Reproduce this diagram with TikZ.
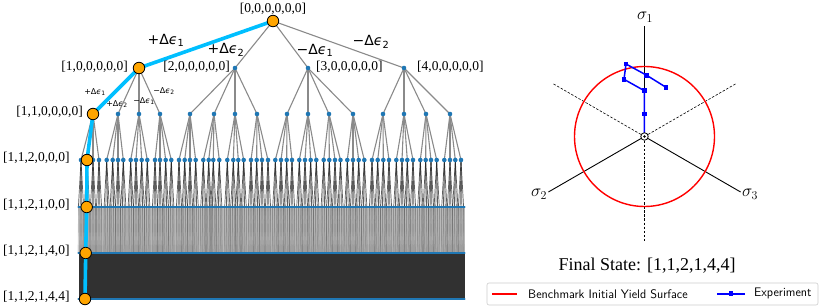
\documentclass[tikz,border=0pt]{standalone}
\usepackage{fontspec}
\setmainfont{Liberation Serif}
\newfontfamily\djs{DejaVu Sans}
\definecolor{tabblue}{HTML}{1F77B4}
\definecolor{pathcyan}{HTML}{00BFFF}
\definecolor{orng}{HTML}{FFA500}
\definecolor{edgegray}{HTML}{8A8A8A}
\definecolor{darkband}{HTML}{313131}
\definecolor{lightband}{HTML}{B9B9B9}
\newcommand{\dEps}[2]{#1Δ{\itshape ϵ}\textsubscript{#2}}
\def\Lthree{81,87,93,99,106.7,112.7,118,123.3,130.7,136,141.7,147.3,155,160,165.7,171.3,179,184.7,190,195.7,203.3,208.7,213.3,219.3,227.3,233.3,238.3,243.7,251,256.7,262,268,275.3,281,286.7,292,299.3,305,310.7,316.3,323.7,329.3,335,340.5,347.3,353,358.7,364.3,372,377.7,383.3,389,396.3,402,407.3,413,420.3,425.7,431,436.7,444.3,450,455.3,461}
\begin{document}
\begin{tikzpicture}[x=1pt,y=-1pt,
  edge/.style={draw=edgegray, line width=1.1pt},
  fan/.style={draw=black!90, line width=0.7pt, opacity=0.7},
  fanb/.style={draw=black!70, line width=0.4pt, opacity=0.22},
  bdot/.style={circle, fill=tabblue, inner sep=0pt, minimum size=4.6pt},
  onode/.style={circle, draw=black, line width=0.8pt, fill=orng, inner sep=0pt, minimum size=11.5pt},
  lab/.style={font=\fontsize{13.5}{15}\selectfont, inner sep=0pt},
  dlab/.style={font=\djs\fontsize{14}{16}\selectfont, inner sep=0pt},
  sdlab/.style={font=\djs\fontsize{8}{9}\selectfont, inner sep=0pt},
  cpath/.style={draw=pathcyan, line width=3.6pt, line join=round},
  level/.style={draw=tabblue, line width=2.3pt, line cap=round},
  axis/.style={draw=black, line width=0.9pt},
  daxis/.style={draw=black, line width=0.6pt, dash pattern=on 2.5pt off 1.6pt},
  expt/.style={draw=blue, line width=1.5pt, line join=round},
  sq/.style={rectangle, fill=blue, inner sep=0pt, minimum size=4.8pt},
  sig/.style={font=\fontsize{17}{19}\selectfont, inner sep=0pt},
  leg/.style={font=\sffamily\fontsize{12.4}{14}\selectfont, anchor=west, inner sep=0pt}
]
\useasboundingbox (0,0) rectangle (822,307);
% ---------- tree coordinates ----------
\coordinate (r) at (273,21);
\foreach \x [count=\i from 0] in {139,235,308,404} \coordinate (a\i) at (\x,68);
\foreach \x [count=\i from 0] in {93,118,139,160,190,214,235,257,287,308,329,353,383,404,426,450} \coordinate (b\i) at (\x,114);
\foreach \x [count=\i from 0] in \Lthree \coordinate (c\i) at (\x,160);
\coordinate (o4) at (86.7,207);
\coordinate (o5) at (85.7,253);
\coordinate (o6) at (85,299);
% ---------- bands ----------
\fill[lightband] (78.5,207) rectangle (464.5,253);
\fill[darkband] (78.5,253) rectangle (464.5,299);
% ---------- edges ----------
\foreach \i in {0,...,3} \draw[edge] (r) -- (a\i);
\foreach \i in {0,...,15} {
  \pgfmathtruncatemacro\p{\i/4}
  \draw[edge] (a\p) -- (b\i);
}
\foreach \x [count=\i from 0] in \Lthree {
  \pgfmathtruncatemacro\p{\i/4}
  \draw[edge] (b\p) -- (c\i);
  \foreach \o [count=\k] in {-2.6,-0.9,0.9,2.6} {
    \coordinate (d\i-\k) at ({\x+\o},207);
    \draw[fan] (c\i) -- (d\i-\k);
    \foreach \q in {-0.55,-0.18,0.18,0.55} \draw[fanb] (d\i-\k) -- ++(\q,46);
  }
}
% ---------- level lines ----------
\draw[level] (78.5,207) -- (464.5,207);
\draw[level] (78.5,253) -- (464.5,253);
\draw[level] (78.5,299) -- (464.5,299);
% ---------- blue dots ----------
\foreach \i in {1,2,3} \node[bdot] at (a\i) {};
\foreach \i in {1,...,15} \node[bdot] at (b\i) {};
\foreach \i in {0,...,63} \node[bdot] at (c\i) {};
% ---------- chosen path ----------
\draw[cpath] (r) -- (a0) -- (b0) -- (c1) -- (o4) -- (o5) -- (o6);
\foreach \n in {r,a0,b0,c1,o4,o5,o6} \node[onode] (N\n) at (\n) {};
% ---------- labels ----------
\node[lab] (l0) at (273,9) {[0,0,0,0,0,0]};
\node[lab, anchor=east] (l1) at (128,67) {[1,0,0,0,0,0]};
\node[lab, anchor=east] (l2) at (230,67) {[2,0,0,0,0,0]};
\node[lab, anchor=west] (l3) at (316,67) {[3,0,0,0,0,0]};
\node[lab, anchor=west] (l4) at (417,67) {[4,0,0,0,0,0]};
\node[lab, anchor=east] (l5) at (83,112) {[1,1,0,0,0,0]};
\node[lab, anchor=west] (l6) at (3,158) {[1,1,2,0,0,0]};
\node[lab, anchor=west] (l7) at (3,205) {[1,1,2,1,0,0]};
\node[lab, anchor=west] (l8) at (3,251) {[1,1,2,1,4,0]};
\node[lab, anchor=west] (l9) at (3,297) {[1,1,2,1,4,4]};
\node[dlab] (e1) at (166,40) {\dEps{+}{1}};
\node[dlab] (e2) at (226,50) {\dEps{+}{2}};
\node[dlab] (e3) at (315,50) {\dEps{−}{1}};
\node[dlab] (e4) at (371,42) {\dEps{−}{2}};
\node[sdlab] (s1) at (95,92) {\dEps{+}{1}};
\node[sdlab] (s2) at (117,104) {\dEps{+}{2}};
\node[sdlab] (s3) at (144,101) {\dEps{−}{1}};
\node[sdlab] (s4) at (164,91) {\dEps{−}{2}};
% ---------- right plot ----------
\coordinate (O) at (644.5,136.5);
\coordinate (S1) at (644.5,26.5);
\coordinate (S2) at (548.4,192);
\coordinate (S3) at (740.6,192);
\coordinate (D1) at (553.6,84);
\coordinate (D2) at (735.4,84);
\coordinate (D3) at (644.5,241.5);
\draw[daxis] (O) -- (D1);
\draw[daxis] (O) -- (D2);
\draw[daxis] (O) -- (D3);
\draw[axis] (O) -- (S1);
\draw[axis] (O) -- (S2);
\draw[axis] (O) -- (S3);
\node[sig] (t1) at (645,17) {$\sigma_1$};
\node[sig] (t2) at (539,194) {$\sigma_2$};
\node[sig] (t3) at (750,194) {$\sigma_3$};
\draw[red, line width=1.4pt] (O) circle (70pt);
\coordinate (P1) at (644.3,114);
\coordinate (P2) at (644.3,90.7);
\coordinate (P3) at (624,79.3);
\coordinate (P4) at (626,64);
\coordinate (P5) at (646.7,75.3);
\coordinate (P6) at (666,87.3);
\draw[expt] (O) -- (P1) -- (P2) -- (P3) -- (P4) -- (P5) -- (P6);
\foreach \p in {P1,P2,P3,P4,P5,P6} \node[sq] at (\p) {};
\node[circle, draw=black, fill=white, line width=0.8pt, inner sep=0pt, minimum size=7.5pt] (Oc) at (O) {};
\fill[black] (O) circle (1.3pt);
\node[font=\fontsize{18}{20}\selectfont, inner sep=0pt] (title) at (647,266) {Final State: [1,1,2,1,4,4]};
% ---------- legend ----------
\draw[black!20, fill=white, rounded corners=2pt, line width=0.6pt] (487,283) rectangle (818,305);
\coordinate (lr1) at (492,293.8);
\coordinate (lr2) at (517,293.8);
\draw[red, line width=1.4pt] (lr1) -- (lr2);
\node[leg] (lt1) at (528,293.8) {Benchmark Initial Yield Surface};
\coordinate (lb1) at (717,293.8);
\coordinate (lb2) at (745,293.8);
\draw[expt] (lb1) -- (lb2);
\node[sq] at (731,293.8) {};
\node[leg] (lt2) at (754,293.8) {Experiment};
\end{tikzpicture}
\end{document}
